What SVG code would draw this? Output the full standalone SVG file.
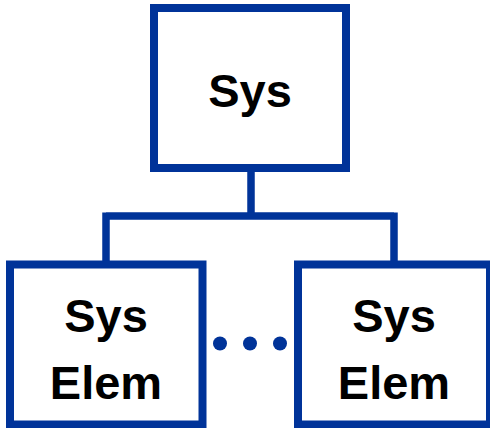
<svg xmlns="http://www.w3.org/2000/svg" width="490" height="428" viewBox="0 0 490 428">
<style>
.box{fill:#fff;stroke:#003399;stroke-width:8}
.conn{fill:none;stroke:#003399;stroke-width:7.5}
.lbl{font-family:"Liberation Sans",Arial,sans-serif;font-weight:bold;font-size:47px;fill:#000;text-anchor:middle}
.dot{fill:#003399}
</style>
<rect width="490" height="428" fill="#fff"/>
<g id="connectors">
<path class="conn" d="M251 168V216M106 216H394M106 212.5V264.5M394 212.5V264.5"/>
</g>
<g id="sys">
<rect class="box" x="154" y="8" width="192" height="160"/>
<text class="lbl" x="250" y="107">Sys</text>
</g>
<g id="elem-left">
<rect class="box" x="10" y="264.5" width="192.5" height="160"/>
<text class="lbl" x="106" y="332">Sys</text>
<text class="lbl" x="106" y="399">Elem</text>
</g>
<g id="elem-right">
<rect class="box" x="298" y="264.5" width="192" height="160"/>
<text class="lbl" x="394" y="332">Sys</text>
<text class="lbl" x="394" y="399">Elem</text>
</g>
<g id="ellipsis">
<circle class="dot" cx="220" cy="343.5" r="7"/>
<circle class="dot" cx="250" cy="343.5" r="7"/>
<circle class="dot" cx="280" cy="343.5" r="7"/>
</g>
</svg>
